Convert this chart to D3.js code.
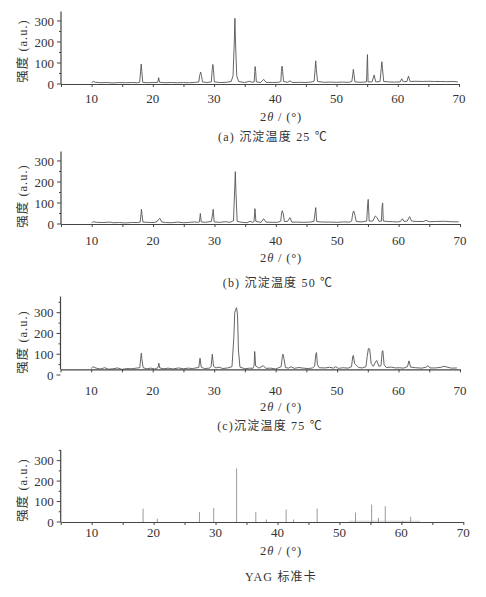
<!DOCTYPE html>
<html><head><meta charset="utf-8">
<script src="https://cdn.jsdelivr.net/npm/d3@7"></script>
<style>body{margin:0;background:#fff}svg{display:block}</style>
</head><body>
<svg id="c" width="486" height="597"></svg>
<script>
// ---- data ----
const xTicks = [10, 20, 30, 40, 50, 60, 70];
const yTicks = [0, 100, 200, 300];
const captions = ["(a) 沉淀温度 25 ℃", "(b) 沉淀温度 50 ℃", "(c)沉淀温度 75 ℃", "YAG 标准卡"];
const xLabel = "2θ / (°)";
const yLabel = "强度 (a.u.)";

const scanA = [
[10.0,6],[10.3,12],[10.6,8],[11.5,6],[12.5,7],[13.5,5],[14.5,7],[15.5,6],[16.5,7],[17.5,6],
[17.85,8],[18.0,60],[18.1,95],[18.2,60],[18.35,8],
[19.0,6],[20.0,7],[20.8,8],[20.95,30],[21.1,8],[22,6],[23,7],[24,6],[25,7],[26,6],[27,8],
[27.5,10],[27.65,40],[27.8,57],[27.95,40],[28.1,10],
[28.8,7],[29.55,10],[29.7,70],[29.8,93],[29.9,70],[30.05,10],
[31,7],[32,8],[32.8,12],[33.1,40],[33.3,200],[33.4,313],[33.5,200],[33.7,40],[34.0,12],
[35,7],[35.8,13],[36.2,8],[36.55,10],[36.65,60],[36.7,83],[36.8,60],[36.9,10],
[37.6,7],[38.1,22],[38.5,8],[39.5,7],[40.5,8],[40.9,12],[41.0,60],[41.1,85],[41.2,60],[41.35,12],
[42.0,8],[42.4,15],[42.8,7],[44,8],[45,7],[46,10],[46.35,14],[46.5,70],[46.6,110],[46.7,70],[46.9,12],
[48,8],[49,9],[50,8],[51,9],[52,8],[52.5,12],[52.65,45],[52.75,70],[52.85,45],[53.0,10],
[54,8],[54.9,10],[55.0,100],[55.05,140],[55.15,10],[55.8,10],[56.15,43],[56.4,10],
[57.1,12],[57.3,75],[57.4,106],[57.5,75],[57.7,12],
[58.5,10],[59.5,9],[60.4,10],[60.65,25],[60.9,11],[61.5,12],[61.75,38],[62.0,12],
[63,13],[64,12],[65,13],[66,12],[67,12],[68,11],[69,12],[69.8,10]
];

const scanB = [
[10.0,6],[10.3,11],[10.8,8],[11.8,7],[13.0,9],[13.5,6],[14.5,7],[15.5,5],[16.5,7],[17.5,7],
[17.9,9],[18.05,50],[18.1,70],[18.2,45],[18.35,9],[19.0,8],[20.0,7],
[20.6,10],[20.9,22],[21.1,27],[21.4,10],[22,7],[23,6],[24,9],[25,6],[26,8],[26.8,10],[27.2,8],
[27.55,10],[27.7,50],[27.85,10],[28.5,8],[29.5,12],[29.7,50],[29.8,70],[29.95,10],
[30.8,8],[31.8,11],[32.5,8],[33.1,15],[33.3,170],[33.4,249],[33.5,150],[33.7,12],
[34.5,8],[35.3,6],[35.8,13],[36.2,8],[36.45,12],[36.6,73],[36.75,12],
[37.6,8],[38.0,25],[38.4,9],[39.5,8],[40.3,8],[40.8,14],[40.95,55],[41.05,63],[41.2,50],[41.4,12],
[41.9,12],[42.3,30],[42.6,9],[43.5,9],[44.5,8],[45.5,9],[46.2,12],[46.4,55],[46.5,78],[46.65,12],
[47.2,10],[48.0,9],[49.0,9],[50.0,8],[51.0,10],[52.0,9],[52.35,14],[52.55,55],[52.7,62],[52.9,40],[53.1,12],
[54.0,10],[54.8,14],[54.95,90],[55.05,117],[55.2,14],[55.8,14],[56.2,38],[56.5,30],[56.8,12],
[57.2,14],[57.3,80],[57.4,100],[57.5,14],[58.2,12],[59.0,11],[59.8,10],
[60.3,12],[60.6,25],[60.9,12],[61.4,14],[61.7,30],[61.8,35],[62.1,14],[63,12],[64.0,12],[64.5,17],[65,11],[66,12],[67.5,13],[68.5,11],[69.8,10]
];

const scanC = [
[10.0,32],[10.3,40],[10.8,33],[11.5,29],[12.2,35],[12.8,28],[13.5,30],[14.3,34],[15,27],[15.8,31],[16.5,30],[17.3,33],
[17.9,35],[18.05,80],[18.15,105],[18.25,75],[18.45,35],[19.0,30],[19.7,33],[20.3,29],
[20.85,35],[21.0,57],[21.15,34],[21.8,30],[22.5,33],[23.3,29],[24.2,34],[25,30],[25.8,33],[26.5,31],[27.0,34],
[27.5,36],[27.7,81],[27.9,38],[28.4,31],[29.2,33],[29.5,40],[29.7,100],[29.9,42],[30.3,34],[30.8,38],[31.4,31],[32.2,34],
[32.9,40],[33.2,180],[33.35,300],[33.5,315],[33.65,324],[33.8,290],[33.95,120],[34.2,38],
[35,30],[35.8,33],[36.3,32],[36.5,45],[36.6,113],[36.75,44],[37.3,33],[38.0,45],[38.4,32],[39.2,33],[40.0,29],
[40.9,40],[41.1,90],[41.2,100],[41.35,80],[41.6,36],[42.1,33],[42.5,40],[43.0,32],[43.8,36],[44.5,33],[45.3,31],[46.0,34],
[46.35,42],[46.55,100],[46.65,108],[46.8,50],[47.1,35],[48.0,34],[48.8,37],[49.4,33],[49.8,40],[50.2,32],[51.0,35],[51.8,33],
[52.35,40],[52.55,90],[52.65,94],[52.85,55],[53.2,45],[53.5,36],[54.1,34],[54.7,40],
[54.9,90],[55.1,128],[55.3,125],[55.55,55],[55.9,42],[56.3,65],[56.45,70],[56.8,42],
[57.15,45],[57.35,115],[57.45,117],[57.65,50],[58.0,36],[58.8,38],[59.5,34],[60.2,35],[60.8,33],
[61.45,40],[61.7,68],[61.95,38],[62.8,35],[63.8,33],[64.5,38],[64.8,45],[65.1,34],[66.0,34],[66.9,37],[67.4,42],[67.9,38],[68.6,33],[69.5,34]
];

const stickPos = [18.3, 20.6, 27.4, 29.7, 33.4, 36.5, 38.2, 41.4, 42.6, 46.4, 52.6, 55.2, 56.3, 57.4, 60.2, 61.5];
const stickInt = [65, 16, 49, 69, 262, 49, 12, 61, 12, 66, 46, 85, 21, 77, 5, 25];

// ---- layout (positions only) ----
const panels = [
  {data: scanA, x0: 61, x1: 459, yMax: 345, y0px: 84, yTopPx: 11.5, axisAt: 0, tickY: 98, labY: 117, capY: 137, capX: 273, yLabY: 51},
  {data: scanB, x0: 61, x1: 460, yMax: 345, y0px: 224, yTopPx: 151.5, axisAt: 0, tickY: 240, labY: 258, capY: 283, capX: 278, yLabY: 196},
  {data: scanC, x0: 60.5, x1: 460, yMax: 378, y0px: 375, yTopPx: 296.5, axisAt: 27, tickY: 390, labY: 407, capY: 426, capX: 270, yLabY: 342},
  {sticks: true, x0: 60.7, x1: 463.3, yMax: 352, y0px: 522, yTopPx: 450, axisAt: 0, tickY: 532, labY: 551, capY: 577, capX: 281, yLabY: 490}
];

const svg = d3.select("#c");
const txtCol = "#333";
const serif = "'Liberation Serif','Times New Roman','Noto Sans CJK SC',serif";

panels.forEach((p, i) => {
  const x = d3.scaleLinear().domain([5, 70]).range([p.x0, p.x1]);
  const y = d3.scaleLinear().domain([0, p.yMax]).range([p.y0px, p.yTopPx]);
  const g = svg.append("g");
  const axisY = y(p.axisAt);

  if (p.sticks) {
    g.append("line").attr("x1", x(51.5)).attr("x2", x(63)).attr("y1", axisY - 0.8).attr("y2", axisY - 0.8)
      .attr("stroke", "#bbb").attr("stroke-width", 0.7);
    g.selectAll("line.stk").data(stickPos).enter().append("line").attr("class", "stk")
      .attr("x1", d => x(d)).attr("x2", d => x(d))
      .attr("y1", axisY).attr("y2", (d, k) => y(stickInt[k]))
      .attr("stroke", "#9a9a9a").attr("stroke-width", 1);
  } else {
    const line = d3.line().x(d => x(d[0])).y(d => y(d[1]));
    g.append("path").datum(p.data).attr("d", line)
      .attr("fill", "none").attr("stroke", "#555").attr("stroke-width", 0.9);
  }

  // x axis
  const xa = g.append("g").attr("transform", `translate(0,${axisY})`)
    .call(d3.axisBottom(x).tickValues(d3.range(5, 71, 5)).tickSize(3).tickSizeOuter(0).tickFormat(""));
  xa.select(".domain").attr("stroke", "#444").attr("stroke-width", 1.2);
  xa.selectAll(".tick line").attr("stroke", "#444");
  g.selectAll("text.xt").data(xTicks).enter().append("text").attr("class", "xt")
    .attr("x", d => x(d)).attr("y", p.tickY).attr("dy", "0.35em")
    .attr("text-anchor", "middle").attr("font-family", serif).attr("font-size", 13).attr("fill", txtCol)
    .text(d => d);

  // y axis
  const ya = g.append("g").attr("transform", `translate(${p.x0},0)`)
    .call(d3.axisLeft(y).tickValues(d3.range(0, p.yMax, 50)).tickSize(0).tickSizeOuter(0).tickFormat(""));
  ya.select(".domain").attr("stroke", "#444").attr("stroke-width", 1.2)
    .attr("d", `M0,${p.yTopPx}V${axisY}`);
  g.selectAll("line.ytk").data(d3.range(0, p.yMax, 50)).enter().append("line").attr("class", "ytk")
    .attr("x1", p.x0).attr("x2", d => p.x0 - (d % 100 === 0 ? 4 : 2))
    .attr("y1", d => y(d)).attr("y2", d => y(d)).attr("stroke", "#444");
  g.selectAll("text.yt").data(yTicks).enter().append("text").attr("class", "yt")
    .attr("x", p.x0 - 7).attr("y", d => y(d)).attr("dy", "0.35em")
    .attr("text-anchor", "end").attr("font-family", serif).attr("font-size", 13).attr("fill", txtCol)
    .text(d => d);

  // y label
  g.append("text").attr("transform", `translate(23,${p.yLabY}) rotate(-90)`)
    .attr("text-anchor", "middle").attr("dy", "0.35em").attr("letter-spacing", 1)
    .attr("font-family", serif).attr("font-size", 12.5).attr("fill", txtCol).text(yLabel);

  // x label
  const xl = g.append("text").attr("x", 281).attr("y", p.labY).attr("dy", "0.35em")
    .attr("text-anchor", "middle").attr("font-family", serif).attr("font-size", 12.5).attr("fill", txtCol)
    .attr("letter-spacing", 0.8);
  xl.append("tspan").text("2");
  xl.append("tspan").attr("font-style", "italic").text("θ");
  xl.append("tspan").text(" / (°)");

  // caption
  g.append("text").attr("x", p.capX).attr("y", p.capY).attr("dy", "0.35em")
    .attr("text-anchor", "middle").attr("font-family", serif).attr("font-size", 12).attr("fill", txtCol)
    .attr("letter-spacing", 1.2)
    .text(captions[i]);
});
</script>
</body></html>
